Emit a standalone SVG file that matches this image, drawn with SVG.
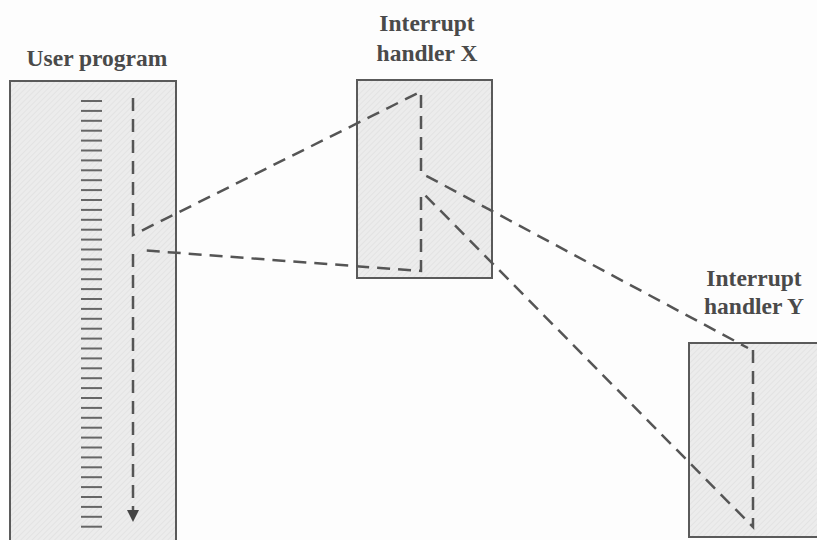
<svg xmlns="http://www.w3.org/2000/svg" width="817" height="540" viewBox="0 0 817 540">
  <defs>
    <pattern id="hatch" width="4" height="4" patternUnits="userSpaceOnUse" patternTransform="rotate(45)">
      <rect width="4" height="4" fill="#ececec"/>
      <line x1="0" y1="0" x2="0" y2="4" stroke="#e0e0e0" stroke-width="1.5"/>
    </pattern>
    <marker id="arrow" viewBox="0 0 12 12" markerWidth="12" markerHeight="12" refX="11" refY="6" orient="auto" markerUnits="userSpaceOnUse">
      <path d="M0,0 L12,6 L0,12 Z" fill="#444"/>
    </marker>
  </defs>
  <style>
    .box { fill: url(#hatch); stroke: #5a5a5a; stroke-width: 2; }
    .title { font-family: "Liberation Serif", "Times New Roman", serif; font-weight: bold; font-size: 23.5px; fill: #4a4a4a; text-anchor: middle; }
    .flow { fill: none; stroke: #555; stroke-width: 2.5; stroke-dasharray: 13 8; }
    .stripe { stroke: #666; stroke-width: 2; }
  </style>
  <rect width="817" height="540" fill="#fdfdfd"/>

  <g id="user-program">
    <rect class="box" x="10" y="81" width="166" height="470"/>
    <text class="title" x="97" y="66">User program</text>
    <g id="instructions" class="stripe">
      <line x1="81" y1="101" x2="102" y2="101"/>
      <line x1="81" y1="110.9" x2="102" y2="110.9"/>
      <line x1="81" y1="120.8" x2="102" y2="120.8"/>
      <line x1="81" y1="130.7" x2="102" y2="130.7"/>
      <line x1="81" y1="140.6" x2="102" y2="140.6"/>
      <line x1="81" y1="150.5" x2="102" y2="150.5"/>
      <line x1="81" y1="160.4" x2="102" y2="160.4"/>
      <line x1="81" y1="170.3" x2="102" y2="170.3"/>
      <line x1="81" y1="180.2" x2="102" y2="180.2"/>
      <line x1="81" y1="190.1" x2="102" y2="190.1"/>
      <line x1="81" y1="200" x2="102" y2="200"/>
      <line x1="81" y1="209.9" x2="102" y2="209.9"/>
      <line x1="81" y1="219.8" x2="102" y2="219.8"/>
      <line x1="81" y1="229.7" x2="102" y2="229.7"/>
      <line x1="81" y1="239.6" x2="102" y2="239.6"/>
      <line x1="81" y1="249.5" x2="102" y2="249.5"/>
      <line x1="81" y1="259.4" x2="102" y2="259.4"/>
      <line x1="81" y1="269.3" x2="102" y2="269.3"/>
      <line x1="81" y1="279.2" x2="102" y2="279.2"/>
      <line x1="81" y1="289.1" x2="102" y2="289.1"/>
      <line x1="81" y1="299" x2="102" y2="299"/>
      <line x1="81" y1="308.9" x2="102" y2="308.9"/>
      <line x1="81" y1="318.8" x2="102" y2="318.8"/>
      <line x1="81" y1="328.7" x2="102" y2="328.7"/>
      <line x1="81" y1="338.6" x2="102" y2="338.6"/>
      <line x1="81" y1="348.5" x2="102" y2="348.5"/>
      <line x1="81" y1="358.4" x2="102" y2="358.4"/>
      <line x1="81" y1="368.3" x2="102" y2="368.3"/>
      <line x1="81" y1="378.2" x2="102" y2="378.2"/>
      <line x1="81" y1="388.1" x2="102" y2="388.1"/>
      <line x1="81" y1="398" x2="102" y2="398"/>
      <line x1="81" y1="407.9" x2="102" y2="407.9"/>
      <line x1="81" y1="417.8" x2="102" y2="417.8"/>
      <line x1="81" y1="427.7" x2="102" y2="427.7"/>
      <line x1="81" y1="437.6" x2="102" y2="437.6"/>
      <line x1="81" y1="447.5" x2="102" y2="447.5"/>
      <line x1="81" y1="457.4" x2="102" y2="457.4"/>
      <line x1="81" y1="467.3" x2="102" y2="467.3"/>
      <line x1="81" y1="477.2" x2="102" y2="477.2"/>
      <line x1="81" y1="487.1" x2="102" y2="487.1"/>
      <line x1="81" y1="497" x2="102" y2="497"/>
      <line x1="81" y1="506.9" x2="102" y2="506.9"/>
      <line x1="81" y1="516.8" x2="102" y2="516.8"/>
      <line x1="81" y1="526.7" x2="102" y2="526.7"/>
    </g>
  </g>

  <g id="handler-x">
    <rect class="box" x="357" y="80" width="135" height="198"/>
    <text class="title" x="427" y="31">Interrupt</text>
    <text class="title" x="427" y="61">handler X</text>
  </g>

  <g id="handler-y">
    <rect class="box" x="689" y="343" width="140" height="194"/>
    <text class="title" x="754" y="286">Interrupt</text>
    <text class="title" x="754" y="314">handler Y</text>
  </g>

  <g id="connectors">
    <path class="flow" d="M133,98 L133,235 L418,93"/>
    <path class="flow" d="M421,95 L421,173 L748,348"/>
    <path class="flow" d="M753,350 L753,527 L423,193"/>
    <path class="flow" d="M421,197 L421,271 L139,250"/>
    <path class="flow" d="M133,254 L133,510"/>
    <path d="M133,508 L133,521" stroke="none" fill="none" marker-end="url(#arrow)"/>
  </g>
</svg>
